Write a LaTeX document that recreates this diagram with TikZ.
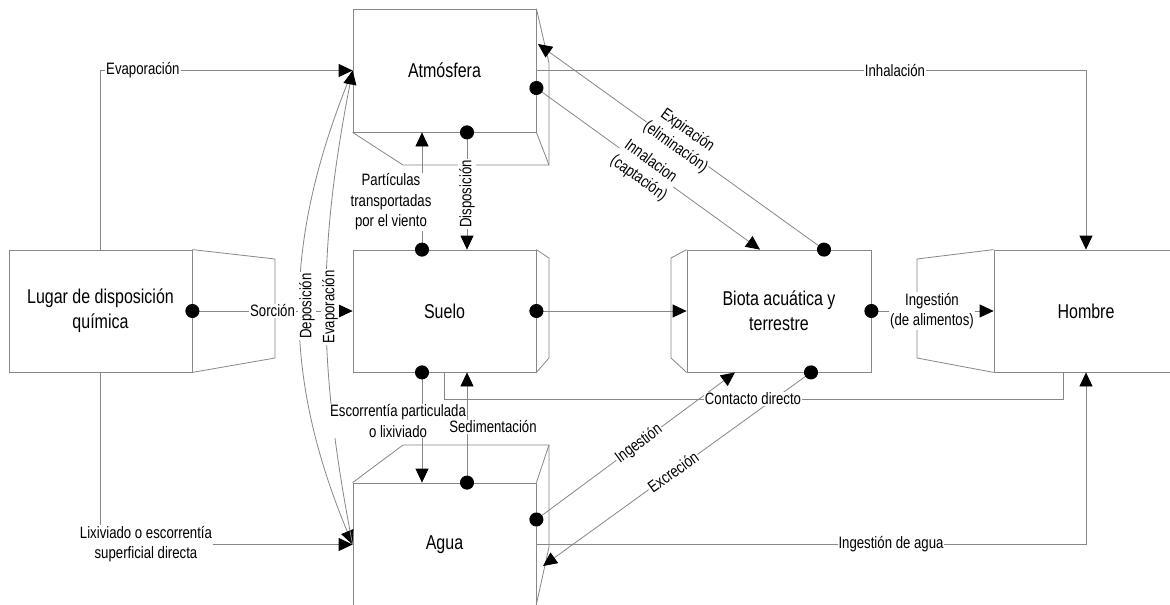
\documentclass[tikz,border=0pt]{standalone}
\usepackage{fontspec}
\setmainfont{Liberation Sans}[FakeStretch=0.8]
\usetikzlibrary{arrows.meta}
\definecolor{linec}{RGB}{135,135,135}
\newcommand\myboxfont{\fontsize{20pt}{25pt}\selectfont}
\newcommand\mylblfont{\fontsize{16.5pt}{20.5pt}\selectfont}
\begin{document}
\begin{tikzpicture}[x=1pt,y=-1pt,
  box/.style={draw=linec, line width=0.8pt, minimum width=183pt, minimum height=122pt, inner sep=0pt, font=\myboxfont, align=center},
  face/.style={draw=linec, line width=0.8pt},
  conn/.style={draw=linec, line width=0.8pt},
  arr/.style={conn, -{Triangle[length=14pt,width=13pt,color=black]}},
  dotarr/.style={conn, {Circle[length=14pt,color=black]}-{Triangle[length=14pt,width=13pt,color=black]}, shorten <=-7pt},
  lbl/.style={fill=white, inner sep=1pt, font=\mylblfont, align=center, text=black}]
\useasboundingbox (0,0) rectangle (1170,605);
\fill[white] (0,0) rectangle (1170,605);
\clip (0,0) rectangle (1170,605);

% boxes
\node[box, minimum height=123pt] (atm) at (444.5,70.5) {Atmósfera};
\node[box] (suelo) at (444.5,311) {Suelo};
\node[box, minimum width=184pt] (biota) at (779,311) {Biota acuática y\\terrestre};
\node[box, minimum width=184pt] (hombre) at (1086,311) {Hombre};
\node[box] (lugar) at (100.5,311) {Lugar de disposición\\química};
\node[box, minimum height=123pt] (agua) at (444.5,544.5) {Agua};

% 3D faces
\draw[face] (atm.south west) -- (403,165) -- (549,165) -- (atm.south east);
\draw[face] (atm.north east) -- (549,63) -- (549,165);
\draw[face] (suelo.north east) -- (549,258) -- (549,358) -- (suelo.south east);
\draw[face] (biota.north west) -- (671,258) -- (671,358) -- (biota.south west);
\draw[face] (hombre.north west) -- (917,259) -- (917,358) -- (hombre.south west);
\draw[face] (lugar.north east) -- (275,259) -- (275,358) -- (lugar.south east);
\draw[face] (agua.north west) -- (403,445) -- (549,445) -- (agua.north east);
\draw[face] (549,445) -- (549,547) -- (536,606);

\coordinate (expin) at (538,44);
\coordinate (excin) at (543,566);

% connectors
\draw[arr] (lugar.north) |- (atm.west);
\draw[arr] (lugar.south) |- (agua.west);
\draw[dotarr] (lugar.east) -- (suelo.west);
\draw[conn, -{Triangle[length=14pt,width=13pt,color=black]}] (atm.west) to[bend right=22.5] (agua.west);
\draw[conn, -{Triangle[length=14pt,width=13pt,color=black]}] (agua.west) to[bend left=11] (atm.west);
\draw[arr] (atm.east) -| (hombre.north);
\draw[dotarr] ([xshift=45pt]biota.north) -- (expin);
\draw[dotarr] ([yshift=-17.5pt]atm.east) -- ([xshift=-19pt]biota.north);
\draw[dotarr] ([xshift=-22.5pt]suelo.north) -- ([xshift=-22.5pt]atm.south);
\draw[dotarr] ([xshift=22.5pt]atm.south) -- ([xshift=22.5pt]suelo.north);
\draw[dotarr] (suelo.east) -- (biota.west);
\draw[dotarr] (biota.east) -- (hombre.west);
\draw[dotarr] ([xshift=-22.5pt]suelo.south) -- ([xshift=-22.5pt]agua.north);
\draw[dotarr] ([xshift=22.5pt]agua.north) -- ([xshift=22.5pt]suelo.south);
\draw[conn] (suelo.south) -- ++(0,27) -| ([xshift=-23pt]hombre.south);
\draw[dotarr] ([yshift=25pt]agua.east) -- ([xshift=-44pt]biota.south);
\draw[dotarr] ([xshift=32pt]biota.south) -- (excin);
\draw[arr] (agua.east) -| (hombre.south);

% labels
\node[lbl, anchor=west] (levap) at (105,70.5) {Evaporación};
\node[lbl] (llix) at (146,544) {Lixiviado o escorrentía\\superficial directa};
\node[lbl] (lsor) at (272.5,311) {Sorción};
\node[lbl, rotate=90] (ldep) at (307,306) {Deposición};
\node[lbl, rotate=90] (levap2) at (330,307) {Evaporación};
\node[lbl] (linh) at (895,70.5) {Inhalación};
\node[lbl, rotate=-35.8, inner sep=0.5pt] (lexp) at (681.5,139) {Expiración\\(eliminación)};
\node[lbl, rotate=-35.9, inner sep=0.5pt] (lcap) at (644.5,170) {Innalacion\\(captación)};
\node[lbl] (lpart) at (391,202) {Partículas\\transportadas\\por el viento};
\node[lbl, rotate=90] (ldisp) at (467,194) {Disposición};
\node[lbl] (lalim) at (932,311) {Ingestión\\(de alimentos)};
\node[lbl] (lesc) at (398,421) {Escorrentía particulada\\o lixiviado};
\node[lbl] (lsed) at (493,427) {Sedimentación};
\node[lbl] (lcont) at (753,399) {Contacto directo};
\node[lbl, rotate=36.4] (ling) at (639,444) {Ingestión};
\node[lbl, rotate=35.9] (lexc) at (673,472) {Excreción};
\node[lbl] (lagua) at (891,544) {Ingestión de agua};
\end{tikzpicture}
\end{document}
